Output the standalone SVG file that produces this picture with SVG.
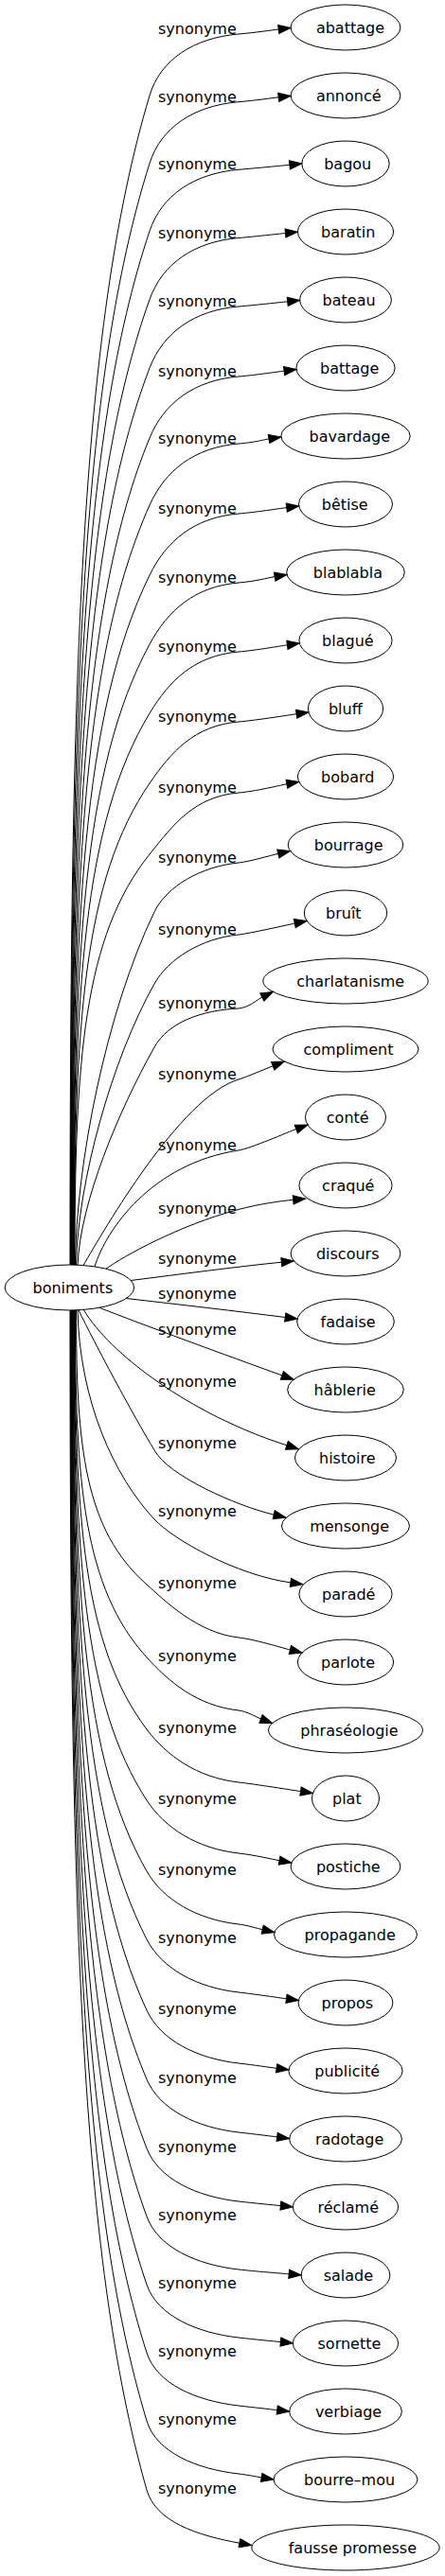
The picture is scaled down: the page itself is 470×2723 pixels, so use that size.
<svg xmlns="http://www.w3.org/2000/svg" width="470" height="2723" viewBox="0 0 470 2723">
<defs>
<style>
.node ellipse { fill: none; stroke: #000; stroke-width: 1; }
text { font-family: "DejaVu Sans", "Liberation Sans", sans-serif; font-size: 16px; fill: #000; }
#edges path { fill: none; stroke: #000; stroke-width: 1; marker-end: url(#ah); }
</style>
<marker id="ah" viewBox="0 0 13 10" refX="0" refY="5" markerWidth="13" markerHeight="10" markerUnits="userSpaceOnUse" orient="auto" overflow="visible">
<path d="M0,0.4 L13,5 L0,9.6 Z" fill="#000" stroke="#000" stroke-width="1"/>
</marker>
</defs>
<rect width="470" height="2723" fill="#fff"/>
<g id="edges">
<path d="M74,1337 C74,719 84.1,348.2 158,101 C169.5,62.7 205,40 252,36 C270.8,34.4 286.3,31.9 294.2,31"/>
<path d="M74.45,1337 C74.45,754.8 84.5,405.6 158,172.7 C170,134.5 205,111.7 252,107.7 C270.8,106.1 286.3,103.7 294.2,102.8"/>
<path d="M74.9,1337 C74.9,790.6 84.9,462.8 158,244.3 C170.7,206.4 205,183.3 252,179.3 C270.8,177.7 297.9,175.1 305.9,174.3"/>
<path d="M75.35,1337 C75.35,826.8 85.3,520.6 158,316.5 C171.4,278.8 205,255.5 252,251.5 C270.8,249.9 293.5,247.3 301.5,246.5"/>
<path d="M75.8,1337 C75.8,863 85.7,578.6 158,389 C172.3,351.6 205,328 252,324 C270.8,322.4 295.7,319.6 303.7,318.8"/>
<path d="M76.25,1337 C76.25,900 86.1,637.8 158,463 C173.2,426 205,402 252,398 C270.8,396.4 292.2,393.1 300.1,392.1"/>
<path d="M76.7,1337 C76.7,935.5 86.5,694.6 158,534 C174.3,497.5 205,473 252,469 C270.8,467.4 276.1,465.2 284,464"/>
<path d="M77.15,1337 C77.15,972.5 86.9,753.8 158,608 C175.5,572 205,547 252,543 C270.8,541.4 294.9,537.6 302.8,536.6"/>
<path d="M77.6,1337 C77.6,1009 87.3,812.2 158,681 C177,645.8 205,620 252,616 C270.8,614.4 282.3,610.9 290.2,609.6"/>
<path d="M78.05,1337 C78.05,1045.5 87.65,870.6 158,754 C178.7,719.8 205,693 252,689 C270.8,687.4 295.5,682.9 303.4,681.8"/>
<path d="M78.5,1337 C78.5,1082.5 88,929.8 158,828 C180.7,795 205,767 252,763 C270.8,761.4 305.2,755.8 313.1,754.7"/>
<path d="M78.95,1337 C78.95,1120 88.4,989.8 158,903 C183,871.8 205,842 252,838 C270.8,836.4 295,830.2 302.9,828.8"/>
<path d="M79.4,1337 C80.5,1230 112,1070 163,964 C176,937 212,916 252,912 C262.8,910.9 286,904.2 293.8,902.4"/>
<path d="M80.5,1337 C82,1250 118,1120 163,1040 C177.7,1013.9 212,992 252,988 C262.8,986.9 303.5,977.7 311.3,976.1"/>
<path d="M82,1337.3 C85,1270 125,1175 163,1107 C177.6,1080.8 212,1068 252,1066 C262,1065.5 272.3,1056.3 276.8,1054.1"/>
<path d="M88,1337.6 C110,1300 190,1160 252,1141 C261.6,1138.1 280.7,1129.7 288.2,1126.8"/>
<path d="M100,1338.9 C112,1300 160,1230 252,1216 C263.9,1214.2 305.3,1196.3 312.8,1193.5"/>
<path d="M112,1341.2 C130,1328 190,1295 250,1279 C275,1272.3 297,1269.5 309.7,1268.3"/>
<path d="M138.3,1353.5 C190,1347 250,1339 297.3,1334.2"/>
<path d="M133.3,1372.5 C190,1379 250,1386 301.2,1392.5"/>
<path d="M105,1382.3 C150,1400 240,1433 297.9,1453.9"/>
<path d="M88.3,1384.4 C115,1430 200,1495 302.9,1527.8"/>
<path d="M83,1384.8 C100,1420 140,1495 163.3,1533.3 C177.5,1559.7 250,1592 289.2,1601.1"/>
<path d="M82,1384.8 C84,1480 120,1560 163,1606 C183.5,1627.9 250,1665 306.9,1672.9"/>
<path d="M80.5,1384.9 C80.5,1529.9 89.4,1617 155,1675 C173.7,1691.6 208,1726 252,1731 C269.6,1733 298.6,1742.1 306.4,1744"/>
<path d="M79.4,1385 C79.4,1568.5 88.5,1678.6 155,1752 C178.5,1777.9 208,1803 252,1808 C260.8,1809 270.8,1815.1 275.5,1816.9"/>
<path d="M78.95,1385 C78.95,1606.5 88.1,1739.4 155,1828 C176.1,1855.9 208,1879 252,1884 C269.6,1886 309.6,1892.4 317.5,1893.6"/>
<path d="M78.5,1385 C78.5,1644 87.7,1799.4 155,1903 C174.1,1932.4 208,1954 252,1959 C269.6,1961 287.2,1965.3 295.1,1966.7"/>
<path d="M78.05,1385 C78.05,1681.5 87.3,1859.4 155,1978 C172.4,2008.4 208,2029 252,2034 C260.8,2035 272.3,2038.6 277.2,2039.7"/>
<path d="M77.6,1385 C77.6,1717.5 86.9,1917 155,2050 C171,2081.2 208,2101 252,2106 C269.6,2108 294.6,2111.7 302.5,2112.8"/>
<path d="M77.15,1385 C77.15,1755 86.5,1977 155,2125 C169.7,2156.7 208,2176 252,2181 C269.6,2183 284.2,2185.3 292.1,2186.3"/>
<path d="M76.7,1385 C76.7,1791.5 86.1,2035.4 155,2198 C168.7,2230.2 208,2249 252,2254 C269.6,2256 284.8,2257.9 292.7,2258.9"/>
<path d="M76.25,1385 C76.25,1828 85.7,2093.8 155,2271 C167.7,2303.6 208,2322 252,2327 C269.6,2329 288.4,2330.8 296.4,2331.6"/>
<path d="M75.8,1385 C75.8,1864 85.3,2151.4 155,2343 C167,2375.9 208,2394 252,2399 C269.6,2401 297.2,2403.1 305.2,2403.8"/>
<path d="M75.35,1385 C75.35,1900 84.9,2209 155,2415 C166.3,2448.1 208,2466 252,2471 C269.6,2473 288.4,2474.8 296.4,2475.6"/>
<path d="M74.9,1385 C74.9,1936 84.5,2266.6 155,2487 C165.7,2520.3 208,2538 252,2543 C269.6,2545 284.8,2546.7 292.7,2547.6"/>
<path d="M74.45,1385 C74.45,1972 84.1,2324.2 155,2559 C165.1,2592.5 208,2610 252,2615 C260.8,2616 271.3,2618.1 276.2,2618.9"/>
<path d="M74,1385 C74,2008.5 83.7,2382.6 155,2632 C164.6,2665.7 208,2680 252.9,2688.2"/>
</g>
<g id="edge-labels">
<text x="167" y="36">synonyme</text>
<text x="167" y="107.7">synonyme</text>
<text x="167" y="179.3">synonyme</text>
<text x="167" y="251.5">synonyme</text>
<text x="167" y="324">synonyme</text>
<text x="167" y="398">synonyme</text>
<text x="167" y="469">synonyme</text>
<text x="167" y="543">synonyme</text>
<text x="167" y="616">synonyme</text>
<text x="167" y="689">synonyme</text>
<text x="167" y="763">synonyme</text>
<text x="167" y="838">synonyme</text>
<text x="167" y="912">synonyme</text>
<text x="167" y="988">synonyme</text>
<text x="167" y="1066">synonyme</text>
<text x="167" y="1141">synonyme</text>
<text x="167" y="1216">synonyme</text>
<text x="167" y="1283">synonyme</text>
<text x="167" y="1336">synonyme</text>
<text x="167" y="1373">synonyme</text>
<text x="167" y="1411">synonyme</text>
<text x="167" y="1466">synonyme</text>
<text x="167" y="1531">synonyme</text>
<text x="167" y="1603">synonyme</text>
<text x="167" y="1679">synonyme</text>
<text x="167" y="1756">synonyme</text>
<text x="167" y="1832">synonyme</text>
<text x="167" y="1907">synonyme</text>
<text x="167" y="1982">synonyme</text>
<text x="167" y="2054">synonyme</text>
<text x="167" y="2129">synonyme</text>
<text x="167" y="2202">synonyme</text>
<text x="167" y="2275">synonyme</text>
<text x="167" y="2347">synonyme</text>
<text x="167" y="2419">synonyme</text>
<text x="167" y="2491">synonyme</text>
<text x="167" y="2563">synonyme</text>
<text x="167" y="2636">synonyme</text>
</g>
<g id="node-boniments" class="node"><ellipse cx="73.4" cy="1361" rx="68.3" ry="24"/><text x="34.5" y="1366.6">boniments</text></g>
<g id="node-abattage" class="node"><ellipse cx="365" cy="29" rx="57.9" ry="24"/><text x="333.9" y="34.6">abattage</text></g>
<g id="node-annonce" class="node"><ellipse cx="365" cy="101" rx="57.9" ry="24"/><text x="333.9" y="106.6">annoncé</text></g>
<g id="node-bagou" class="node"><ellipse cx="365" cy="173" rx="46.2" ry="24"/><text x="342.2" y="178.6">bagou</text></g>
<g id="node-baratin" class="node"><ellipse cx="365" cy="245" rx="50.6" ry="24"/><text x="339.1" y="250.6">baratin</text></g>
<g id="node-bateau" class="node"><ellipse cx="365" cy="317" rx="48.4" ry="24"/><text x="340.6" y="322.6">bateau</text></g>
<g id="node-battage" class="node"><ellipse cx="365" cy="389" rx="52.1" ry="24"/><text x="338" y="394.6">battage</text></g>
<g id="node-bavardage" class="node"><ellipse cx="365" cy="461" rx="68.2" ry="24"/><text x="326.6" y="466.6">bavardage</text></g>
<g id="node-betise" class="node"><ellipse cx="365" cy="533" rx="49.5" ry="24"/><text x="339.8" y="538.6">bêtise</text></g>
<g id="node-blablabla" class="node"><ellipse cx="365" cy="605" rx="62.3" ry="24"/><text x="330.8" y="610.6">blablabla</text></g>
<g id="node-blague" class="node"><ellipse cx="365" cy="677" rx="49.1" ry="24"/><text x="340.1" y="682.6">blagué</text></g>
<g id="node-bluff" class="node"><ellipse cx="365" cy="749" rx="39.6" ry="24"/><text x="346.9" y="754.6">bluff</text></g>
<g id="node-bobard" class="node"><ellipse cx="365" cy="821" rx="50.6" ry="24"/><text x="339.1" y="826.6">bobard</text></g>
<g id="node-bourrage" class="node"><ellipse cx="365" cy="893" rx="60.8" ry="24"/><text x="331.8" y="898.6">bourrage</text></g>
<g id="node-bruit" class="node"><ellipse cx="365" cy="965" rx="43.7" ry="24"/><text x="344" y="970.6">bruît</text></g>
<g id="node-charlatanisme" class="node"><ellipse cx="365" cy="1037" rx="87.2" ry="24"/><text x="313.2" y="1042.6">charlatanisme</text></g>
<g id="node-compliment" class="node"><ellipse cx="365" cy="1109" rx="77" ry="24"/><text x="320.4" y="1114.6">compliment</text></g>
<g id="node-conte" class="node"><ellipse cx="365" cy="1181" rx="42.5" ry="24"/><text x="344.8" y="1186.6">conté</text></g>
<g id="node-craque" class="node"><ellipse cx="365" cy="1253" rx="49.1" ry="24"/><text x="340.1" y="1258.6">craqué</text></g>
<g id="node-discours" class="node"><ellipse cx="365" cy="1325" rx="57.9" ry="24"/><text x="333.9" y="1330.6">discours</text></g>
<g id="node-fadaise" class="node"><ellipse cx="365" cy="1397" rx="51.3" ry="24"/><text x="338.6" y="1402.6">fadaise</text></g>
<g id="node-hablerie" class="node"><ellipse cx="365" cy="1469" rx="61.3" ry="24"/><text x="331.5" y="1474.6">hâblerie</text></g>
<g id="node-histoire" class="node"><ellipse cx="365" cy="1541" rx="53.5" ry="24"/><text x="337" y="1546.6">histoire</text></g>
<g id="node-mensonge" class="node"><ellipse cx="365" cy="1613" rx="67.5" ry="24"/><text x="327.2" y="1618.6">mensonge</text></g>
<g id="node-parade" class="node"><ellipse cx="365" cy="1685" rx="49.1" ry="24"/><text x="340.1" y="1690.6">paradé</text></g>
<g id="node-parlote" class="node"><ellipse cx="365" cy="1757" rx="50.6" ry="24"/><text x="339.1" y="1762.6">parlote</text></g>
<g id="node-phraseologie" class="node"><ellipse cx="365" cy="1829" rx="81.4" ry="24"/><text x="317.3" y="1834.6">phraséologie</text></g>
<g id="node-plat" class="node"><ellipse cx="365" cy="1901" rx="35.5" ry="24"/><text x="351" y="1906.6">plat</text></g>
<g id="node-postiche" class="node"><ellipse cx="365" cy="1973" rx="57.9" ry="24"/><text x="333.9" y="1978.6">postiche</text></g>
<g id="node-propagande" class="node"><ellipse cx="365" cy="2045" rx="75.5" ry="24"/><text x="321.5" y="2050.6">propagande</text></g>
<g id="node-propos" class="node"><ellipse cx="365" cy="2117" rx="49.9" ry="24"/><text x="339.6" y="2122.6">propos</text></g>
<g id="node-publicite" class="node"><ellipse cx="365" cy="2189" rx="60.1" ry="24"/><text x="332.3" y="2194.6">publicité</text></g>
<g id="node-radotage" class="node"><ellipse cx="365" cy="2261" rx="59.4" ry="24"/><text x="332.9" y="2266.6">radotage</text></g>
<g id="node-reclame" class="node"><ellipse cx="365" cy="2333" rx="55.7" ry="24"/><text x="335.5" y="2338.6">réclamé</text></g>
<g id="node-salade" class="node"><ellipse cx="365" cy="2405" rx="46.9" ry="24"/><text x="341.7" y="2410.6">salade</text></g>
<g id="node-sornette" class="node"><ellipse cx="365" cy="2477" rx="55.7" ry="24"/><text x="335.5" y="2482.6">sornette</text></g>
<g id="node-verbiage" class="node"><ellipse cx="365" cy="2549" rx="59.4" ry="24"/><text x="332.9" y="2554.6">verbiage</text></g>
<g id="node-bourre-mou" class="node"><ellipse cx="365" cy="2621" rx="76" ry="24"/><text x="321.1" y="2626.6">bourre–mou</text></g>
<g id="node-fausse-promesse" class="node"><ellipse cx="365" cy="2693" rx="99.2" ry="24"/><text x="304.7" y="2698.6">fausse promesse</text></g>
</svg>
